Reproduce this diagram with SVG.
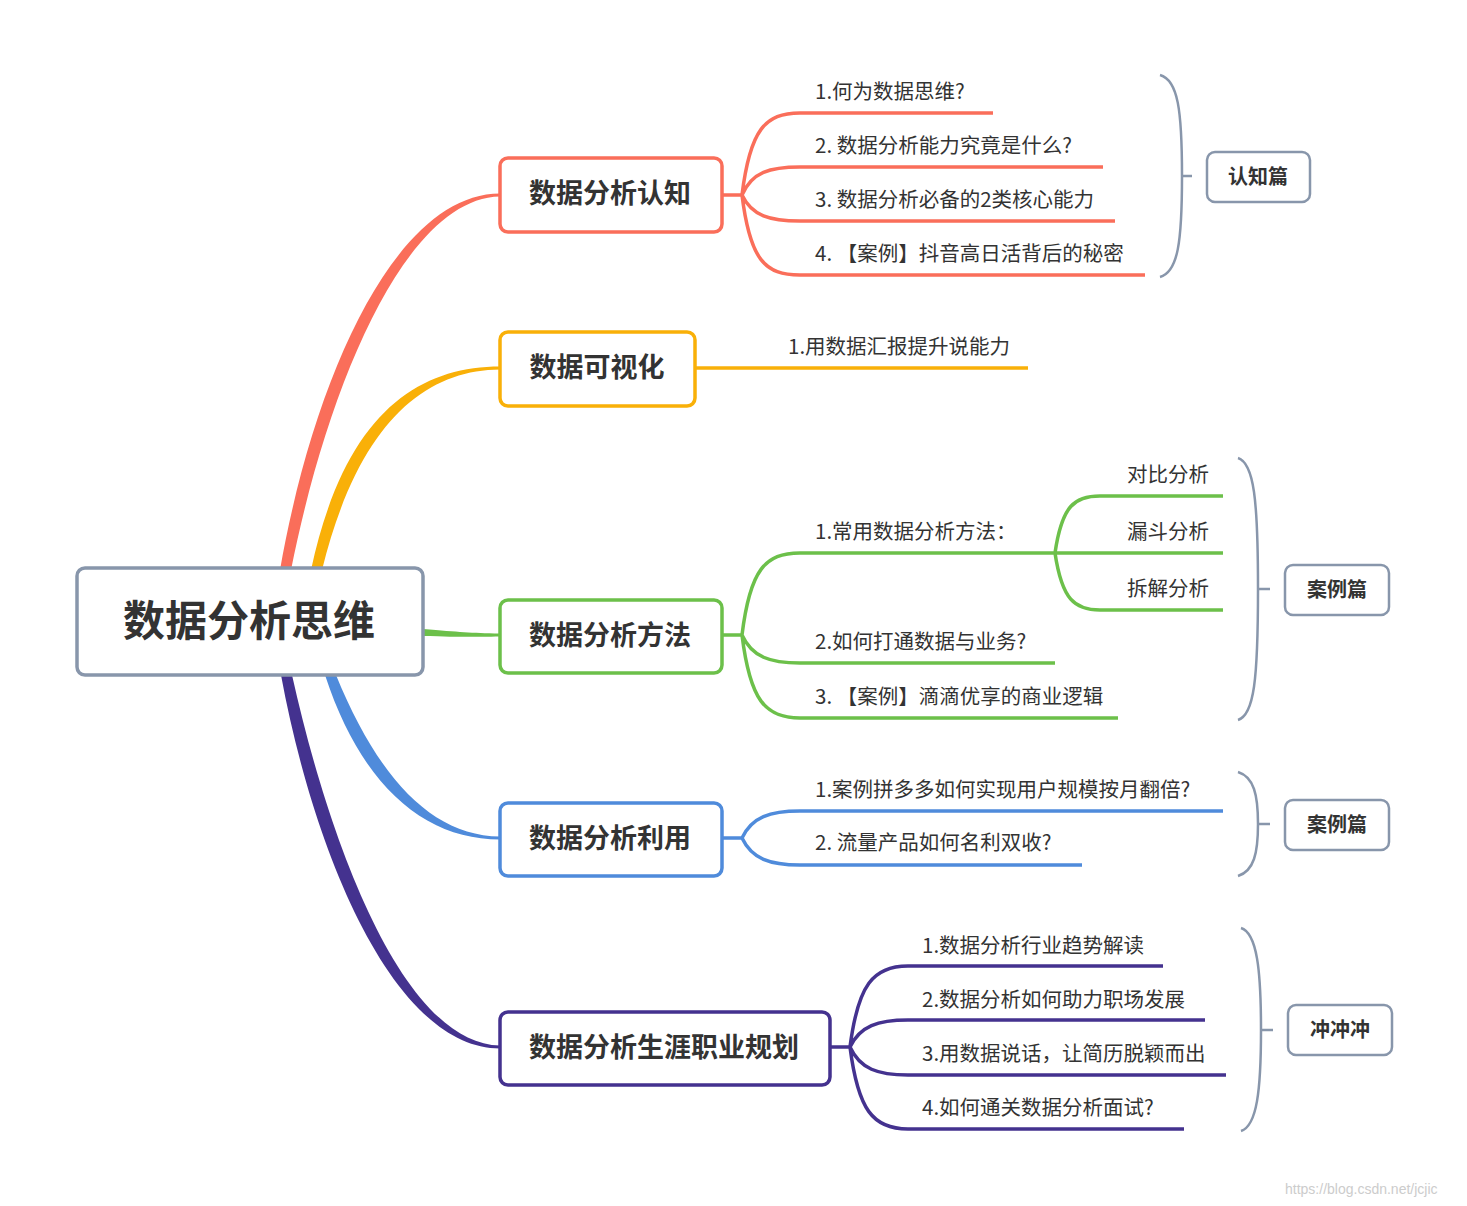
<svg xmlns="http://www.w3.org/2000/svg" width="1467" height="1206" viewBox="0 0 1467 1206">
<style>
.t{font-family:"Noto Sans CJK SC","Liberation Sans",sans-serif;font-size:20.5px;fill:#333}
.b{font-family:"Noto Sans CJK SC","Liberation Sans",sans-serif;font-weight:bold;fill:#333}
.box{fill:#fff;stroke-width:3.5}
.c{fill:none;stroke-width:3.5}
.g{fill:none;stroke:#8896ab;stroke-width:2.5}
.r{stroke:#fa6e5a}.y{stroke:#f9b008}.gr{stroke:#6cc04a}.bl{stroke:#4f8bdb}.p{stroke:#44328f}
</style>
<rect width="1467" height="1206" fill="#fff"/>
<g id="connectors">
<path fill="#fa6e5a" d="M280,570 C314,376 396,193.5 500,193.5 L500,196.5 C406,198 328,384 291,570 Z"/>
<path fill="#f9b008" d="M311,570 C344,416 416,366.5 500,366.5 L500,369.5 C424,370 358,424 322,570 Z"/>
<path fill="#6cc04a" d="M423,629 C460,632 470,633 500,633.5 L500,636.5 C470,637 460,637 423,636 Z"/>
<path fill="#4f8bdb" d="M325,675 C362,788 426,839.5 500,839.5 L500,836.5 C432,836 378,778 336,675 Z"/>
<path fill="#44328f" d="M281,675 C314,854 394,1048.5 500,1048.5 L500,1045.5 C404,1044 330,846 292,675 Z"/>
<path class="c r" d="M722,195H742 M742,195 C750,130 765,113 800,113H993 M742,195 C752,172 770,167 800,167H1103 M742,195 C752,216 770,221 800,221H1115 M742,195 C750,260 765,275 800,275H1145"/>
<path class="c y" d="M695,368H1028"/>
<path class="c gr" d="M722,635H742 M742,635 C750,570 765,553 800,553H1223 M1055,553 C1062,505 1075,496 1100,496H1223 M1055,553 C1062,600 1075,610 1100,610H1223 M742,635 C752,657 770,663 800,663H1055 M742,635 C750,700 765,718 800,718H1118"/>
<path class="c bl" d="M722,838H742 M742,838 C752,817 770,811 800,811H1223 M742,838 C752,859 770,865 800,865H1082"/>
<path class="c p" d="M830,1047H850 M850,1047 C858,985 873,966 908,966H1163 M850,1047 C860,1026 878,1020 908,1020H1205 M850,1047 C860,1069 878,1075 908,1075H1226 M850,1047 C858,1110 873,1129 908,1129H1184"/>
<path class="g" d="M1160,75 C1178,80 1182,110 1182,176 C1182,242 1178,272 1160,277 M1182,176H1192"/>
<path class="g" d="M1238,458 C1254,463 1258,500 1258,589 C1258,680 1254,715 1238,720 M1258,589H1270"/>
<path class="g" d="M1238,772 C1254,777 1258,795 1258,824 C1258,853 1254,871 1238,876 M1258,824H1270"/>
<path class="g" d="M1241,928 C1257,933 1261,970 1261,1030 C1261,1090 1257,1126 1241,1131 M1261,1030H1273"/>
</g>
<g id="root"><rect class="box" x="77" y="568" width="346" height="107" rx="8" stroke="#8896ab"/><text class="b" x="249" y="636" font-size="42" text-anchor="middle">数据分析思维</text></g>
<g id="n1"><rect class="box r" x="500" y="158" width="222" height="74" rx="8"/><text class="b" x="610" y="203" font-size="27" text-anchor="middle">数据分析认知</text></g>
<g id="n2"><rect class="box y" x="500" y="332" width="195" height="74" rx="8"/><text class="b" x="597" y="377" font-size="27" text-anchor="middle">数据可视化</text></g>
<g id="n3"><rect class="box gr" x="500" y="600" width="222" height="73" rx="8"/><text class="b" x="610" y="645" font-size="27" text-anchor="middle">数据分析方法</text></g>
<g id="n4"><rect class="box bl" x="500" y="803" width="222" height="73" rx="8"/><text class="b" x="610" y="848" font-size="27" text-anchor="middle">数据分析利用</text></g>
<g id="n5"><rect class="box p" x="500" y="1012" width="330" height="73" rx="8"/><text class="b" x="664" y="1057" font-size="27" text-anchor="middle">数据分析生涯职业规划</text></g>
<g id="leaves">
<text class="t" x="815" y="99">1.何为数据思维?</text>
<text class="t" x="815" y="153">2. 数据分析能力究竟是什么?</text>
<text class="t" x="815" y="207">3. 数据分析必备的2类核心能力</text>
<text class="t" x="815" y="261">4. 【案例】抖音高日活背后的秘密</text>
<text class="t" x="788" y="354">1.用数据汇报提升说能力</text>
<text class="t" x="815" y="539">1.常用数据分析方法：</text>
<text class="t" x="1127" y="482">对比分析</text>
<text class="t" x="1127" y="539">漏斗分析</text>
<text class="t" x="1127" y="596">拆解分析</text>
<text class="t" x="815" y="649">2.如何打通数据与业务?</text>
<text class="t" x="815" y="704">3. 【案例】滴滴优享的商业逻辑</text>
<text class="t" x="815" y="797">1.案例拼多多如何实现用户规模按月翻倍?</text>
<text class="t" x="815" y="850">2. 流量产品如何名利双收?</text>
<text class="t" x="922" y="953">1.数据分析行业趋势解读</text>
<text class="t" x="922" y="1007">2.数据分析如何助力职场发展</text>
<text class="t" x="922" y="1061">3.用数据说话，让简历脱颖而出</text>
<text class="t" x="922" y="1115">4.如何通关数据分析面试?</text>
</g>
<g id="s1"><rect x="1207" y="152" width="103" height="50" rx="8" fill="#fff" stroke="#8896ab" stroke-width="2.5"/><text class="b" x="1258" y="184" font-size="20" text-anchor="middle">认知篇</text></g>
<g id="s2"><rect x="1285" y="565" width="104" height="50" rx="8" fill="#fff" stroke="#8896ab" stroke-width="2.5"/><text class="b" x="1337" y="597" font-size="20" text-anchor="middle">案例篇</text></g>
<g id="s3"><rect x="1285" y="800" width="104" height="50" rx="8" fill="#fff" stroke="#8896ab" stroke-width="2.5"/><text class="b" x="1337" y="832" font-size="20" text-anchor="middle">案例篇</text></g>
<g id="s4"><rect x="1288" y="1005" width="104" height="50" rx="8" fill="#fff" stroke="#8896ab" stroke-width="2.5"/><text class="b" x="1340" y="1037" font-size="20" text-anchor="middle">冲冲冲</text></g>
<text x="1285" y="1194" font-family="Liberation Sans,sans-serif" font-size="14" fill="#ccc">https://blog.csdn.net/jcjic</text>
</svg>
